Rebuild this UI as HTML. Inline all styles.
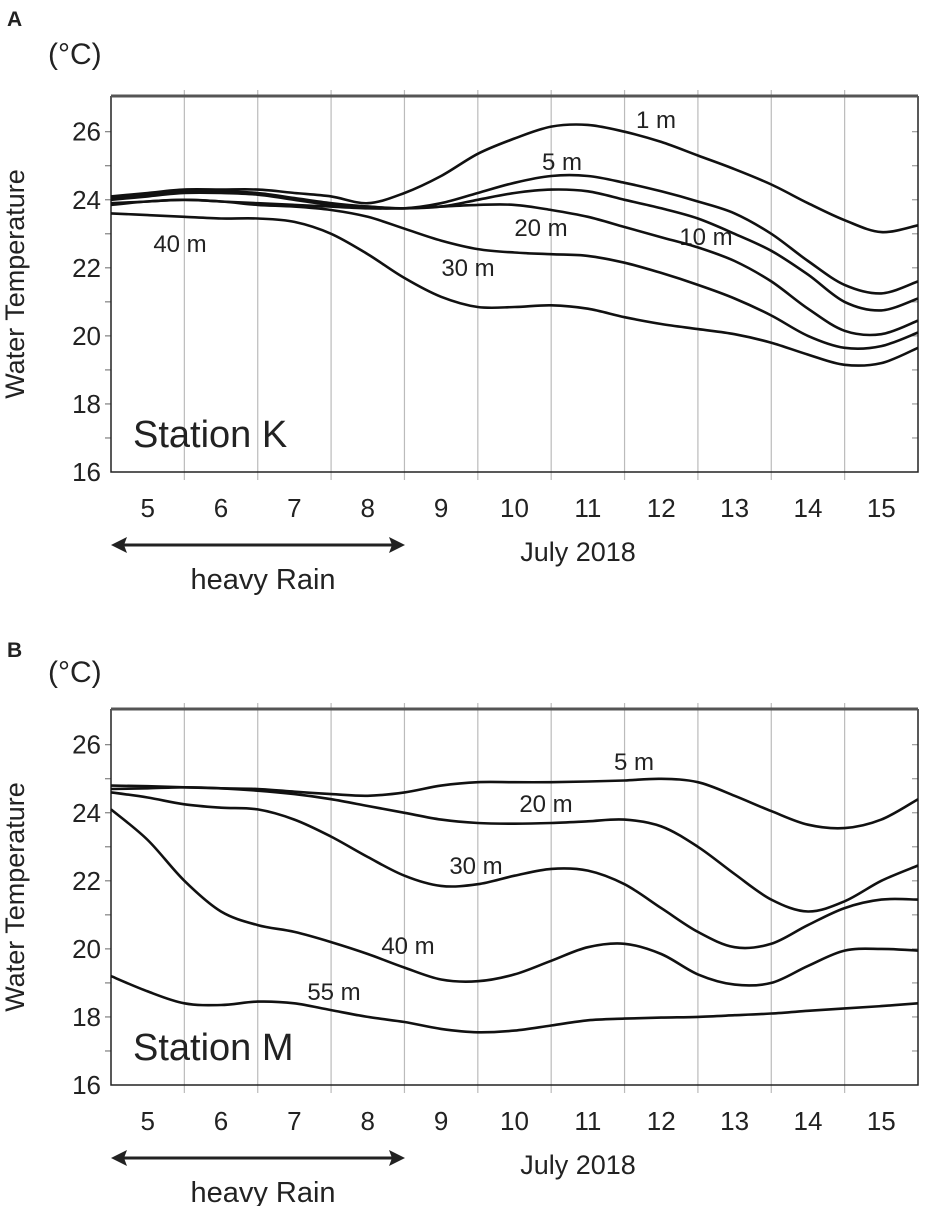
<!DOCTYPE html>
<html><head><meta charset="utf-8"><style>
html,body{margin:0;padding:0;background:#fff;}
svg{display:block;}
text{font-family:"Liberation Sans Narrow","Liberation Sans",sans-serif;fill:#222;}
</style></head><body>
<svg id="fig" width="927" height="1206" viewBox="0 0 927 1206" xmlns="http://www.w3.org/2000/svg"></svg>
<script>
const days = ["5","6","7","8","9","10","11","12","13","14","15"];
const yTicks = [16,18,20,22,24,26];
const tA = [0,0.5,1,1.5,2,2.5,3,3.5,4,4.5,5,5.5,6,6.5,7,7.5,8,8.5,9,9.5,10,10.5,11];
const kNames = ["1 m","5 m","10 m","20 m","30 m","40 m"];
const k1  = [24.1,24.2,24.3,24.3,24.3,24.2,24.1,23.9,24.2,24.7,25.35,25.8,26.15,26.2,26.0,25.7,25.3,24.9,24.45,23.9,23.4,23.05,23.25];
const k5  = [24.05,24.15,24.25,24.25,24.2,24.05,23.9,23.8,23.75,23.9,24.2,24.5,24.7,24.7,24.5,24.25,23.95,23.6,23.0,22.2,21.5,21.25,21.6];
const k10 = [24.0,24.1,24.2,24.2,24.15,24.0,23.85,23.8,23.75,23.8,24.0,24.2,24.3,24.25,24.0,23.75,23.45,23.0,22.5,21.8,21.0,20.75,21.1];
const k20 = [23.9,23.95,24.0,23.95,23.9,23.85,23.8,23.75,23.75,23.8,23.85,23.85,23.7,23.5,23.2,22.9,22.6,22.2,21.6,20.8,20.15,20.05,20.45];
const k30 = [23.85,23.95,24.0,23.95,23.85,23.8,23.7,23.5,23.15,22.8,22.55,22.45,22.4,22.35,22.15,21.85,21.5,21.1,20.6,20.0,19.65,19.7,20.1];
const k40 = [23.6,23.55,23.5,23.45,23.45,23.35,23.0,22.4,21.7,21.15,20.85,20.85,20.9,20.8,20.55,20.35,20.2,20.05,19.8,19.45,19.15,19.2,19.65];
const mNames = ["5 m","20 m","30 m","40 m","55 m"];
const m5  = [24.8,24.78,24.75,24.72,24.7,24.62,24.55,24.5,24.6,24.8,24.9,24.9,24.9,24.92,24.95,25.0,24.9,24.5,24.05,23.65,23.55,23.8,24.4];
const m20 = [24.7,24.72,24.75,24.72,24.65,24.55,24.4,24.2,24.0,23.8,23.7,23.68,23.7,23.75,23.8,23.6,23.0,22.2,21.45,21.1,21.4,22.0,22.45];
const m30 = [24.6,24.45,24.25,24.15,24.1,23.8,23.3,22.7,22.15,21.85,21.9,22.15,22.35,22.3,21.9,21.2,20.5,20.05,20.15,20.7,21.2,21.45,21.45];
const m40 = [24.1,23.2,22.0,21.1,20.7,20.5,20.2,19.85,19.45,19.1,19.05,19.25,19.65,20.05,20.15,19.85,19.25,18.95,19.0,19.5,19.95,20.0,19.95];
const m55 = [19.2,18.75,18.4,18.35,18.45,18.4,18.2,18.0,17.85,17.65,17.55,17.6,17.75,17.9,17.95,17.98,18.0,18.05,18.1,18.18,18.25,18.32,18.4];

const NS="http://www.w3.org/2000/svg";
const svg=document.getElementById('fig');
function el(tag,attrs,parent,txt){const e=document.createElementNS(NS,tag);for(const k in attrs)e.setAttribute(k,attrs[k]);if(txt!==undefined)e.textContent=txt;(parent||svg).appendChild(e);return e;}

function smooth(pts){let d="M"+pts[0][0].toFixed(1)+","+pts[0][1].toFixed(1);
 for(let i=0;i<pts.length-1;i++){const p0=pts[Math.max(i-1,0)],p1=pts[i],p2=pts[i+1],p3=pts[Math.min(i+2,pts.length-1)];
  const c1=[p1[0]+(p2[0]-p0[0])/6,p1[1]+(p2[1]-p0[1])/6],c2=[p2[0]-(p3[0]-p1[0])/6,p2[1]-(p3[1]-p1[1])/6];
  d+=" C"+c1[0].toFixed(1)+","+c1[1].toFixed(1)+" "+c2[0].toFixed(1)+","+c2[1].toFixed(1)+" "+p2[0].toFixed(1)+","+p2[1].toFixed(1);}
 return d;}

function panel(cfg){
 const L=111,R=918,T=cfg.top,B=cfg.bottom;
 const x=t=>L+(R-L)*t/11;
 const y=v=>B-(B-T)*(v-16)/(27.05-16);
 const g=el('g',{});
 
 
 for(let i=1;i<11;i++){const gl=el('line',{x1:x(i),x2:x(i),y1:T-6,y2:B+8,stroke:'#bbb','stroke-width':1.2},g);
  }
 for(let v=17;v<=26;v++){
  const a=el('line',{x1:L-6,x2:L,y1:y(v),y2:y(v),stroke:'#666','stroke-width':1},g);
  const b=el('line',{x1:R-6,x2:R,y1:y(v),y2:y(v),stroke:'#888','stroke-width':1},g);}
 const fr=el('path',{d:`M${L},${T} L${L},${B} L${R},${B} L${R},${T}`,fill:'none',stroke:'#222','stroke-width':1.5},g);
 
 const tp=el('line',{x1:L,x2:R,y1:T,y2:T,stroke:'#555','stroke-width':3},g);
 
 yTicks.forEach(v=>{const t=el('text',{x:L-10,y:y(v)+9,'font-size':26,'text-anchor':'end'},g,String(v));
  });
 days.forEach((d,i)=>{const t=el('text',{x:x(i+0.5),y:B+45,'font-size':26,'text-anchor':'middle'},g,d);
  });
 const yt=el('text',{x:0,y:0,'font-size':27,'text-anchor':'middle',transform:`translate(24,${(T+B)/2}) rotate(-90)`},g,'Water Temperature');
 
 const un=el('text',{x:48,y:cfg.unitY,'font-size':30},g,'(°C)');
 
 const pl=el('text',{x:7,y:cfg.letterY,'font-size':21,'font-weight':'bold','font-family':'Liberation Sans, sans-serif',fill:'#000'},g,cfg.letter);
 
 const st=el('text',{x:133,y:B-25,'font-size':38},g,cfg.station);
 
 cfg.series.forEach((s,i)=>{
  const p=el('path',{d:smooth(tA.map((t,j)=>[x(t),y(s[j])])),fill:'none',stroke:'#111','stroke-width':2.6},g);
  
  const lp=cfg.labels[i];
  const lt=el('text',{x:lp[0],y:lp[1],'font-size':24,'text-anchor':'middle'},g,cfg.names[i]);
  
 });
 const ay=B+73;
 const ar=el('line',{x1:L+12,x2:405-12,y1:ay,y2:ay,stroke:'#222','stroke-width':3},g);
 
 const h1=el('polygon',{points:`${L},${ay} ${L+16},${ay-8} ${L+13},${ay} ${L+16},${ay+8}`,fill:'#222'},g);
 
 const h2=el('polygon',{points:`405,${ay} ${405-16},${ay-8} ${405-13},${ay} ${405-16},${ay+8}`,fill:'#222'},g);
 
 const hr=el('text',{x:263,y:B+117,'font-size':29,'text-anchor':'middle'},g,'heavy Rain');
 
 const jl=el('text',{x:578,y:B+89,'font-size':27,'text-anchor':'middle'},g,'July 2018');
 
}
panel({name:'panel-a',letter:'A',station:'Station K',top:96,bottom:472,unitY:64,letterY:26,series:[k1,k5,k10,k20,k30,k40],names:kNames,
 labels:[[656,128],[562,170],[706,245],[541,236],[468,276],[180,252]]});
panel({name:'panel-b',letter:'B',station:'Station M',top:709,bottom:1085,unitY:682,letterY:657,series:[m5,m20,m30,m40,m55],names:mNames,
 labels:[[634,770],[546,812],[476,874],[408,954],[334,1000]]});
</script>
</body></html>
